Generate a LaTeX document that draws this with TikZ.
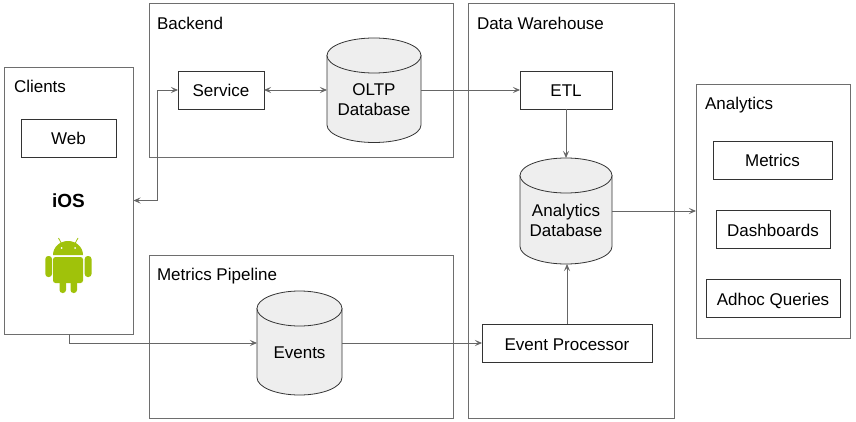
\documentclass[tikz,border=0pt]{standalone}
\usepackage{fontspec}
\setmainfont{Liberation Sans}
\usetikzlibrary{arrows.meta}
\definecolor{grp}{HTML}{6E6E6E}
\definecolor{inner}{HTML}{333333}
\definecolor{conn}{HTML}{666666}
\definecolor{dbfill}{HTML}{EEEEEE}
\definecolor{droid}{HTML}{A0C20A}
\tikzset{
  x=1pt,y=-1pt,
  every node/.style={font=\fontsize{17}{20}\selectfont,text=black,inner sep=0pt,outer sep=0pt},
  group/.style={draw=grp,line width=0.9pt,fill=white,rectangle},
  item/.style={draw=inner,line width=0.9pt,fill=white,rectangle,text height=14pt,text depth=0pt},
  title/.style={anchor=west,text height=12pt,text depth=0pt},
  dbanchor/.style={rectangle},
  dbtext/.style={align=center},
  dbbody/.style={draw=inner,line width=0.8pt,fill=dbfill},
  dbcap/.style={draw=inner,line width=0.8pt,fill=dbfill},
  conn/.style={draw=conn,line width=0.8pt,-{Stealth[length=7pt,width=6pt,inset=3pt]}},
  bidir/.style={draw=conn,line width=0.8pt,{Stealth[length=7pt,width=6pt,inset=3pt]}-{Stealth[length=7pt,width=6pt,inset=3pt]}},
}
\newcommand{\sizedbox}[7]{\node[#1,minimum width=#6 pt,minimum height=#7 pt] (#2) at (#4,#5) {#3};}
% name, text, left, top, width, height
\newcommand{\dbnode}[6]{%
  \draw[dbbody] (#3,#4+17.5) -- (#3,#4+#6-17.5) arc[start angle=180,end angle=0,x radius=#5/2,y radius=17.5]
     -- (#3+#5,#4+17.5) -- cycle;
  \draw[dbcap] (#3+#5/2,#4+17.5) ellipse[x radius=#5/2,y radius=17.5];
  \node[dbanchor,minimum width=#5 pt,minimum height=#6 pt] (#1) at (#3+#5/2,#4+#6/2) {};
  \node[dbtext] (#1text) at (#3+#5/2,#4+#6/2+9.5) {#2};
}
\begin{document}
\begin{tikzpicture}
\path[use as bounding box,fill=white] (0,0) rectangle (856,422);
% groups
\sizedbox{group}{backend}{}{301}{80}{304}{154}
\sizedbox{group}{warehouse}{}{571}{210.5}{206}{415}
\sizedbox{group}{pipeline}{}{301}{336.5}{304}{163}
\sizedbox{group}{clients}{}{69}{200.5}{129}{267}
\sizedbox{group}{analytics}{}{773}{211}{154}{254}
% titles
\node[title] (tbackend) at (157,23.5) {Backend};
\node[title] (twarehouse) at (477,23.5) {Data Warehouse};
\node[title] (tpipeline) at (157,274.5) {Metrics Pipeline};
\node[title] (tclients) at (14,86.5) {Clients};
\node[title] (tanalytics) at (705,104) {Analytics};
% items
\sizedbox{item}{web}{Web}{68.5}{138}{95}{38}
\sizedbox{item}{service}{Service}{221}{90}{86}{38}
\sizedbox{item}{etl}{ETL}{566}{90}{92}{38}
\sizedbox{item}{processor}{Event Processor}{567}{343}{170}{38}
\sizedbox{item}{metrics}{Metrics}{772.5}{160}{119}{38}
\sizedbox{item}{dash}{Dashboards}{773}{229}{114}{38}
\sizedbox{item}{adhoc}{Adhoc Queries}{773}{298}{134}{38}
% databases
\dbnode{oltp}{OLTP\\Database}{327}{38}{94}{104.5}
\dbnode{adb}{Analytics\\Database}{520}{158}{92}{106}
\dbnode{events}{Events}{257}{291}{85}{104}
% iOS
\node[font=\fontsize{19}{20}\selectfont\bfseries] (ios) at (68.5,201) {iOS};
% android logo
\begin{scope}[draw=none]
  \fill[droid] (53,255) arc[start angle=180,end angle=360,x radius=15,y radius=14] -- cycle;
  \fill[droid,rounded corners=2.5pt] (53,257) rectangle (83,283);
  \fill[droid,rounded corners=3pt] (45.3,256) rectangle (52,277);
  \fill[droid,rounded corners=3pt] (84.7,256) rectangle (91.5,277);
  \fill[droid,rounded corners=3pt] (59.5,278) rectangle (66,293);
  \fill[droid,rounded corners=3pt] (70.5,278) rectangle (77,293);
  \draw[droid,line width=0.8pt] (58.5,238) -- (61.5,243.5);
  \draw[droid,line width=0.8pt] (78,238) -- (75,243.5);
  \fill[white] (61.5,248) circle[radius=1pt];
  \fill[white] (75,248) circle[radius=1pt];
\end{scope}
% connectors
\coordinate (bendA) at (157,90);
\coordinate (bendB) at (157,200.5);
\draw[bidir] (service.west) -- (bendA) -- (bendB) -- (clients.east);
\draw[bidir] (service.east) -- (oltp.west |- service.east);
\draw[conn] (oltp.east |- etl.west) -- (etl.west);
\draw[conn] (etl.south) -- (adb.north);
\draw[conn] (adb.east |- analytics.west) -- (analytics.west);
\draw[conn] (processor.north) -- (adb.south -| processor.north);
\coordinate (bendC) at (69,343);
\draw[conn] (clients.south) -- (bendC) -- (events.west |- bendC);
\draw[conn] (events.east |- processor.west) -- (processor.west);
\end{tikzpicture}
\end{document}
